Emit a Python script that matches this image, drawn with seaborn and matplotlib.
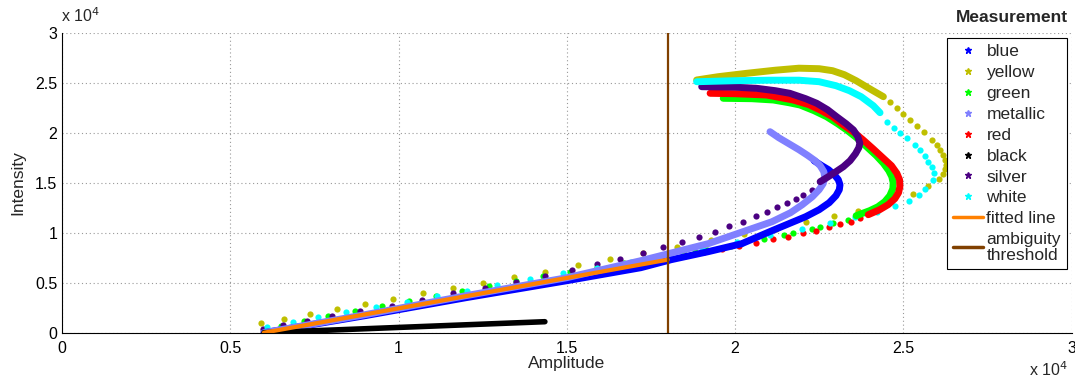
import matplotlib
matplotlib.use("Agg")
import matplotlib.pyplot as plt
import seaborn as sns
from matplotlib.lines import Line2D
from matplotlib.ticker import FuncFormatter

# values in units of 1e4 (amplitude x, intensity y)
# dense parts (drawn as thick bands) and sparse dots
blue_x = [0.60, 0.90, 1.20, 1.50, 1.72, 1.81, 1.92, 2.02, 2.11, 2.21, 2.25, 2.28, 2.30, 2.31, 2.312,
          2.307, 2.295, 2.278, 2.258, 2.235]
blue_y = [0.00, 0.17, 0.35, 0.52, 0.65, 0.73, 0.81, 0.89, 1.02, 1.16, 1.23, 1.30, 1.37, 1.43, 1.48,
          1.53, 1.58, 1.63, 1.67, 1.72]

metallic_x = [0.60, 0.90, 1.20, 1.50, 1.72, 1.92, 2.11, 2.165, 2.20, 2.23, 2.25, 2.262, 2.267, 2.264,
              2.253, 2.238, 2.215, 2.19, 2.16, 2.13, 2.104]
metallic_y = [0.00, 0.18, 0.37, 0.55, 0.72, 0.89, 1.11, 1.20, 1.28, 1.36, 1.43, 1.49, 1.55, 1.61,
              1.67, 1.72, 1.775, 1.83, 1.89, 1.95, 2.01]

yellow_x = [1.886, 1.95, 2.035, 2.12, 2.19, 2.25, 2.29, 2.325, 2.36, 2.40, 2.441]
yellow_y = [2.527, 2.56, 2.594, 2.625, 2.645, 2.64, 2.62, 2.58, 2.52, 2.44, 2.36]
yellow_dot_x = [2.461, 2.481, 2.500, 2.520, 2.540, 2.562, 2.585, 2.599, 2.609, 2.619, 2.625, 2.627,
                2.624, 2.617, 2.607, 2.575, 2.528, 2.429, 2.366, 2.294, 2.211, 2.122, 2.027, 1.928,
                1.827, 1.727, 1.628, 1.534, 1.435, 1.343, 1.252, 1.161, 1.072, 0.985, 0.900, 0.818,
                0.737, 0.661, 0.591]
yellow_dot_y = [2.31, 2.25, 2.187, 2.127, 2.07, 2.004, 1.927, 1.877, 1.827, 1.777, 1.727, 1.677,
                1.634, 1.584, 1.534, 1.47, 1.387, 1.277, 1.22, 1.167, 1.104, 1.04, 0.99, 0.925,
                0.86, 0.80, 0.734, 0.677, 0.61, 0.554, 0.50, 0.444, 0.394, 0.334, 0.287, 0.237,
                0.187, 0.14, 0.10]

green_x = [1.965, 2.05, 2.114, 2.16, 2.193, 2.235, 2.272, 2.305, 2.332, 2.365, 2.391, 2.42, 2.441,
           2.457, 2.466, 2.470, 2.469, 2.460, 2.445, 2.425, 2.40, 2.36]
green_y = [2.344, 2.34, 2.327, 2.30, 2.277, 2.22, 2.16, 2.09, 2.027, 1.94, 1.86, 1.77, 1.694,
           1.62, 1.56, 1.50, 1.44, 1.37, 1.31, 1.26, 1.22, 1.17]
green_dot_x = [2.337, 2.290, 2.253, 2.228, 2.173, 2.146, 2.086, 2.020, 1.987, 1.916, 1.881, 1.847,
               1.809, 1.74, 1.67, 1.59, 1.51, 1.43, 1.35, 1.27, 1.19, 1.11, 1.03, 0.95, 0.87,
               0.79, 0.72, 0.65, 0.60]
green_dot_y = [1.127, 1.094, 1.06, 1.037, 0.994, 0.977, 0.934, 0.894, 0.867, 0.827, 0.804, 0.787,
               0.76, 0.74, 0.70, 0.66, 0.61, 0.57, 0.52, 0.47, 0.42, 0.37, 0.32, 0.27, 0.22,
               0.17, 0.12, 0.07, 0.03]

red_x = [1.926, 2.00, 2.094, 2.173, 2.22, 2.253, 2.29, 2.322, 2.355, 2.381, 2.41, 2.441, 2.465,
         2.481, 2.489, 2.490, 2.486, 2.475, 2.455, 2.43, 2.396]
red_y = [2.394, 2.39, 2.377, 2.327, 2.28, 2.227, 2.16, 2.077, 2.00, 1.927, 1.84, 1.744, 1.67,
         1.594, 1.53, 1.46, 1.40, 1.34, 1.28, 1.23, 1.18]
red_dot_x = [2.372, 2.344, 2.312, 2.279, 2.241, 2.201, 2.158, 2.114, 2.062, 2.013, 1.960, 1.908,
             1.851, 1.80, 1.74, 1.66, 1.58, 1.50, 1.42, 1.34, 1.26, 1.18, 1.10, 1.02, 0.94,
             0.86, 0.78, 0.70, 0.62]
red_dot_y = [1.144, 1.11, 1.084, 1.054, 1.02, 0.994, 0.96, 0.934, 0.90, 0.867, 0.834, 0.804,
             0.77, 0.73, 0.69, 0.64, 0.59, 0.54, 0.49, 0.44, 0.40, 0.35, 0.30, 0.25, 0.21,
             0.16, 0.11, 0.06, 0.01]

black_x = [0.60, 1.435]
black_y = [0.00, 0.11]

silver_x = [1.901, 2.00, 2.064, 2.12, 2.163, 2.21, 2.243, 2.275, 2.302, 2.33, 2.352, 2.365, 2.371,
            2.368, 2.358, 2.342, 2.322, 2.30, 2.275, 2.253]
silver_y = [2.46, 2.455, 2.444, 2.42, 2.394, 2.34, 2.294, 2.23, 2.16, 2.09, 2.027, 1.96, 1.894,
            1.85, 1.79, 1.72, 1.66, 1.61, 1.555, 1.51]
silver_dot_x = [2.228, 2.203, 2.181, 2.155, 2.126, 2.096, 2.062, 2.025, 1.983, 1.941, 1.894, 1.842,
                1.785, 1.726, 1.658, 1.589, 1.515, 1.435, 1.349, 1.257, 1.163, 1.069, 0.980,
                0.886, 0.801, 0.727, 0.658, 0.598]
silver_dot_y = [1.427, 1.377, 1.334, 1.30, 1.254, 1.21, 1.167, 1.11, 1.067, 1.01, 0.96, 0.91,
                0.854, 0.80, 0.734, 0.684, 0.627, 0.567, 0.504, 0.444, 0.394, 0.327, 0.27,
                0.217, 0.167, 0.117, 0.077, 0.034]

white_x = [1.886, 2.00, 2.10, 2.19, 2.25, 2.30, 2.34, 2.375, 2.411, 2.431]
white_y = [2.51, 2.52, 2.525, 2.525, 2.51, 2.47, 2.42, 2.36, 2.27, 2.20]
white_dot_x = [2.453, 2.473, 2.490, 2.510, 2.535, 2.550, 2.565, 2.574, 2.584, 2.590, 2.588, 2.565,
               2.548, 2.516, 2.475, 2.421, 2.357, 2.282, 2.198, 2.104, 2.005, 1.901, 1.797,
               1.69, 1.59, 1.490, 1.391, 1.292, 1.203, 1.113, 1.024, 0.932, 0.844, 0.762,
               0.687, 0.608]
white_dot_y = [2.11, 2.05, 1.994, 1.944, 1.877, 1.827, 1.767, 1.71, 1.654, 1.594, 1.527, 1.434,
               1.377, 1.32, 1.267, 1.21, 1.154, 1.094, 1.034, 0.974, 0.91, 0.844, 0.777,
               0.71, 0.65, 0.594, 0.534, 0.477, 0.42, 0.367, 0.31, 0.254, 0.204, 0.154,
               0.104, 0.054]

fit_x = [0.60, 1.80]
fit_y = [0.00, 0.73]

threshold_x = [1.80, 1.80]
threshold_y = [0.00, 3.00]

series = [
    ("blue", "#0000ff", blue_x, blue_y, [], []),
    ("yellow", "#bfbf00", yellow_x, yellow_y, yellow_dot_x, yellow_dot_y),
    ("green", "#00ff00", green_x, green_y, green_dot_x, green_dot_y),
    ("metallic", "#8080ff", metallic_x, metallic_y, [], []),
    ("red", "#ff0000", red_x, red_y, red_dot_x, red_dot_y),
    ("black", "#000000", black_x, black_y, [], []),
    ("silver", "#4b0082", silver_x, silver_y, silver_dot_x, silver_dot_y),
    ("white", "#00ffff", white_x, white_y, white_dot_x, white_dot_y),
]
fit_color = "#ff8000"
thr_color = "#804000"

sns.set_style("white")
plt.rcParams['font.family'] = ['Liberation Sans', 'DejaVu Sans']

fig = plt.figure(figsize=(10.75, 3.8), dpi=100)
ax = fig.add_axes([62 / 1075, 1 - 332.7 / 380, 1009.5 / 1075, 300 / 380])

for name, col, dx, dy, px, py in series:
    lw = 4 if name == "black" else 5
    sns.lineplot(x=dx, y=dy, sort=False, estimator=None, color=col, lw=lw,
                 solid_capstyle="round", solid_joinstyle="round", ax=ax)
    if px:
        sns.scatterplot(x=px, y=py, color=col, marker="o", s=20, linewidth=0, ax=ax)

sns.lineplot(x=fit_x, y=fit_y, sort=False, estimator=None, color=fit_color, lw=3, ax=ax)
sns.lineplot(x=threshold_x, y=threshold_y, sort=False, estimator=None, color=thr_color,
             lw=1.6, ax=ax)

ax.set_xlim(0, 3)
ax.set_ylim(0, 3)
ax.set_xticks([0, 0.5, 1, 1.5, 2, 2.5, 3])
ax.set_yticks([0, 0.5, 1, 1.5, 2, 2.5, 3])
fmt = FuncFormatter(lambda v, p: f"{v:g}")
ax.xaxis.set_major_formatter(fmt)
ax.yaxis.set_major_formatter(fmt)
ax.tick_params(direction="in", length=4, width=0.8, labelsize=11.5, colors="black")
ax.tick_params(axis="x", pad=6)
ax.grid(True, linestyle=(0, (1, 2.5)), color="#999999", linewidth=0.8)
for s in ["top", "right"]:
    ax.spines[s].set_visible(False)
for s in ["left", "bottom"]:
    ax.spines[s].set_color("black")
    ax.spines[s].set_linewidth(0.8)

ax.set_xlabel("Amplitude", fontsize=12.5, labelpad=0)
ax.set_ylabel("Intensity", fontsize=12.5, labelpad=7)

fig.text(61 / 1075, 1 - 22 / 380, r"x 10$^4$", fontsize=11.5, ha="left", va="baseline")
fig.text(1068 / 1075, 1 - 376 / 380, r"x 10$^4$", fontsize=11.5, ha="right", va="baseline")

handles = [Line2D([], [], color=c, marker="*", ls="none", ms=5) for _, c, *_ in series]
handles += [Line2D([], [], color=fit_color, lw=2.5), Line2D([], [], color=thr_color, lw=2.5)]
labels = [n for n, *_ in series] + ["fitted line", "ambiguity\nthreshold"]
leg = ax.legend(handles, labels, loc="upper right", bbox_to_anchor=(1067 / 1075, 1 - 38 / 380),
                bbox_transform=fig.transFigure, frameon=True, fancybox=False,
                edgecolor="black", framealpha=1, fontsize=12.5, handlelength=1.7,
                handletextpad=0.2, labelspacing=0.33, borderpad=0.35, borderaxespad=0)
leg.get_frame().set_linewidth(0.8)
leg.get_texts()[-1].set_linespacing(1.05)
fig.text(1012 / 1075, 1 - 18 / 380, "Measurement", fontsize=12.5, fontweight="bold",
         ha="center", va="center")

fig.savefig("out.png", dpi=100)
